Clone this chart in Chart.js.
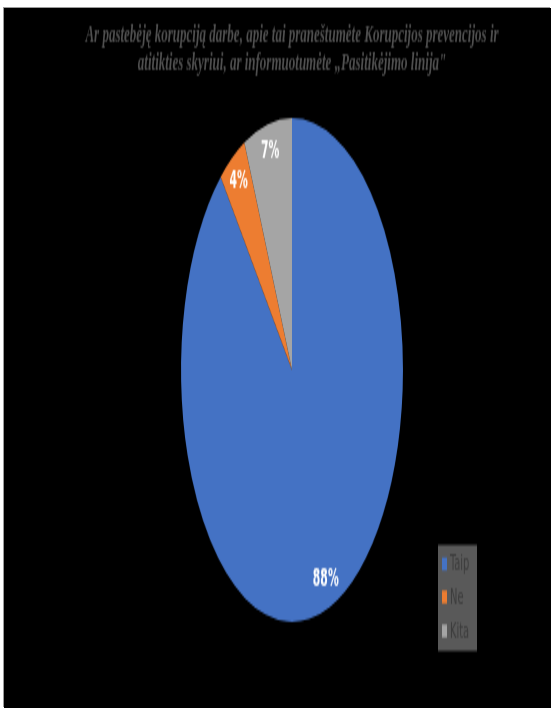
<!DOCTYPE html>
<html>
<head>
<meta charset="utf-8">
<script src="https://cdn.jsdelivr.net/npm/chart.js@4"></script>
<style>
    body { margin: 0; background: #fff; }
    #chart {
        position: absolute; left: 4px; top: 8px;
        width: 547px !important; height: 700px !important;
        background: #000; box-shadow: -1px -1px 0 #9a9a9a;
    }
</style>
</head>
<body>
<canvas id="chart" width="547" height="350"></canvas>
<script>
// Datos del gráfico
const categorias = ['Taip', 'Ne', 'Kita'];
const valores = [88, 4, 7];
const colores = ['#4472C4', '#ED7D31', '#A5A5A5'];
const titulo = [
    'Ar pastebėję korupciją darbe, apie tai praneštumėte Korupcijos prevencijos ir',
    'atitikties skyriui, ar informuotumėte „Pasitikėjimo linija"'
];

// estiramiento vertical extra del pastel (la imagen original es una elipse)
const ESTIRA_Y = 1.135;
const FUENTE_NARROW = '"Liberation Sans Narrow", "DejaVu Sans Condensed", sans-serif';

const pluginElipse = {
    id: 'elipse',
    beforeDatasetsDraw(chart) {
        const arc = chart.getDatasetMeta(0).data[0];
        const ctx = chart.ctx;
        ctx.save();
        ctx.translate(arc.x, arc.y);
        ctx.scale(1, ESTIRA_Y);
        ctx.translate(-arc.x, -arc.y);
    },
    afterDatasetsDraw(chart) {
        chart.ctx.restore();
        // etiquetas de porcentaje
        const ctx = chart.ctx;
        const meta = chart.getDatasetMeta(0);
        ctx.save();
        ctx.fillStyle = '#ffffff';
        ctx.font = `bold 12px ${FUENTE_NARROW}`;
        ctx.textAlign = 'center';
        ctx.textBaseline = 'middle';
        meta.data.forEach((arc, i) => {
            const mid = (arc.startAngle + arc.endAngle) / 2;
            const r = arc.outerRadius * 0.89;
            const x = arc.x + Math.cos(mid) * r;
            const y = arc.y + Math.sin(mid) * r * ESTIRA_Y;
            ctx.fillText(`${valores[i]}%`, x, y);
        });
        ctx.restore();
    },
    afterDraw(chart) {
        // leyenda con fondo gris
        const ctx = chart.ctx;
        ctx.save();
        ctx.fillStyle = '#595959';
        ctx.fillRect(434, 268.5, 39, 53);
        ctx.font = `11px ${FUENTE_NARROW}`;
        ctx.textBaseline = 'middle';
        const filas = [278, 294.5, 311.5];
        categorias.forEach((cat, i) => {
            ctx.fillStyle = colores[i];
            ctx.fillRect(438, filas[i] - 3.25, 5, 6.5);
            ctx.fillStyle = '#3c3c3c';
            ctx.fillText(cat, 446, filas[i] + 0.5);
        });
        ctx.restore();
    }
};

const configChart = {
    type: 'pie',
    data: {
        labels: categorias,
        datasets: [{
            data: valores,
            backgroundColor: colores,
            borderWidth: 0,
        }]
    },
    options: {
        responsive: false,
        animation: false,
        devicePixelRatio: 1,
        layout: {
            padding: { top: 0, bottom: 58, left: 60, right: 31 }
        },
        plugins: {
            legend: { display: false },
            tooltip: { enabled: false },
            title: {
                display: true,
                text: titulo,
                color: '#505050',
                font: { family: '"Liberation Serif", "Times New Roman", serif', size: 13, style: 'italic', weight: 'bold', lineHeight: 1.04 },
                padding: { top: 7, bottom: 36 }
            }
        }
    },
    plugins: [pluginElipse]
};

new Chart(document.getElementById('chart'), configChart);
</script>
</body>
</html>
